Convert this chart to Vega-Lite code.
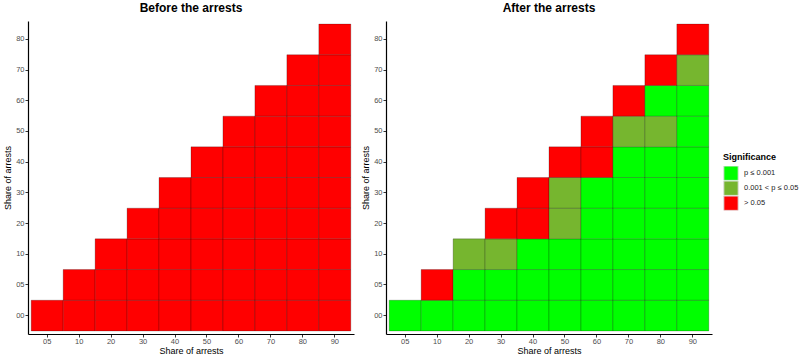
{
  "$schema": "https://vega.github.io/schema/vega-lite/v6.json",
  "padding": {"left": 3, "top": 2, "right": 0, "bottom": 0},
  "bounds": "flush",
  "spacing": 32,
  "config": {
    "font": "Liberation Sans",
    "view": {"stroke": null},
    "axis": {
      "grid": false,
      "domainColor": "#000000",
      "domainWidth": 1.2,
      "tickColor": "#333333",
      "tickSize": 3,
      "labelFontSize": 7.5,
      "labelColor": "#4D4D4D",
      "titleFontSize": 9,
      "titleFontWeight": "normal",
      "titleColor": "#000000"
    },
    "axisX": {"labelPadding": 0, "titlePadding": 2},
    "axisY": {"labelPadding": 1, "titlePadding": 3},
    "title": {"fontSize": 12, "fontWeight": "bold", "anchor": "middle", "offset": 6, "color": "#000000"},
    "legend": {
      "titleFontSize": 9,
      "titleFontWeight": "bold",
      "titleColor": "#000000",
      "labelFontSize": 7.5,
      "labelColor": "#222222",
      "symbolType": "square",
      "symbolSize": 206,
      "symbolStrokeColor": "#dddddd",
      "symbolStrokeWidth": 1,
      "rowPadding": 0,
      "clipHeight": 14.4,
      "labelOffset": 5,
      "titlePadding": 4
    }
  },
  "data": {"values": [
    {"p": "before", "x": "05", "y": "00", "s": "> 0.05"},
    {"p": "before", "x": "10", "y": "00", "s": "> 0.05"},
    {"p": "before", "x": "10", "y": "05", "s": "> 0.05"},
    {"p": "before", "x": "20", "y": "00", "s": "> 0.05"},
    {"p": "before", "x": "20", "y": "05", "s": "> 0.05"},
    {"p": "before", "x": "20", "y": "10", "s": "> 0.05"},
    {"p": "before", "x": "30", "y": "00", "s": "> 0.05"},
    {"p": "before", "x": "30", "y": "05", "s": "> 0.05"},
    {"p": "before", "x": "30", "y": "10", "s": "> 0.05"},
    {"p": "before", "x": "30", "y": "20", "s": "> 0.05"},
    {"p": "before", "x": "40", "y": "00", "s": "> 0.05"},
    {"p": "before", "x": "40", "y": "05", "s": "> 0.05"},
    {"p": "before", "x": "40", "y": "10", "s": "> 0.05"},
    {"p": "before", "x": "40", "y": "20", "s": "> 0.05"},
    {"p": "before", "x": "40", "y": "30", "s": "> 0.05"},
    {"p": "before", "x": "50", "y": "00", "s": "> 0.05"},
    {"p": "before", "x": "50", "y": "05", "s": "> 0.05"},
    {"p": "before", "x": "50", "y": "10", "s": "> 0.05"},
    {"p": "before", "x": "50", "y": "20", "s": "> 0.05"},
    {"p": "before", "x": "50", "y": "30", "s": "> 0.05"},
    {"p": "before", "x": "50", "y": "40", "s": "> 0.05"},
    {"p": "before", "x": "60", "y": "00", "s": "> 0.05"},
    {"p": "before", "x": "60", "y": "05", "s": "> 0.05"},
    {"p": "before", "x": "60", "y": "10", "s": "> 0.05"},
    {"p": "before", "x": "60", "y": "20", "s": "> 0.05"},
    {"p": "before", "x": "60", "y": "30", "s": "> 0.05"},
    {"p": "before", "x": "60", "y": "40", "s": "> 0.05"},
    {"p": "before", "x": "60", "y": "50", "s": "> 0.05"},
    {"p": "before", "x": "70", "y": "00", "s": "> 0.05"},
    {"p": "before", "x": "70", "y": "05", "s": "> 0.05"},
    {"p": "before", "x": "70", "y": "10", "s": "> 0.05"},
    {"p": "before", "x": "70", "y": "20", "s": "> 0.05"},
    {"p": "before", "x": "70", "y": "30", "s": "> 0.05"},
    {"p": "before", "x": "70", "y": "40", "s": "> 0.05"},
    {"p": "before", "x": "70", "y": "50", "s": "> 0.05"},
    {"p": "before", "x": "70", "y": "60", "s": "> 0.05"},
    {"p": "before", "x": "80", "y": "00", "s": "> 0.05"},
    {"p": "before", "x": "80", "y": "05", "s": "> 0.05"},
    {"p": "before", "x": "80", "y": "10", "s": "> 0.05"},
    {"p": "before", "x": "80", "y": "20", "s": "> 0.05"},
    {"p": "before", "x": "80", "y": "30", "s": "> 0.05"},
    {"p": "before", "x": "80", "y": "40", "s": "> 0.05"},
    {"p": "before", "x": "80", "y": "50", "s": "> 0.05"},
    {"p": "before", "x": "80", "y": "60", "s": "> 0.05"},
    {"p": "before", "x": "80", "y": "70", "s": "> 0.05"},
    {"p": "before", "x": "90", "y": "00", "s": "> 0.05"},
    {"p": "before", "x": "90", "y": "05", "s": "> 0.05"},
    {"p": "before", "x": "90", "y": "10", "s": "> 0.05"},
    {"p": "before", "x": "90", "y": "20", "s": "> 0.05"},
    {"p": "before", "x": "90", "y": "30", "s": "> 0.05"},
    {"p": "before", "x": "90", "y": "40", "s": "> 0.05"},
    {"p": "before", "x": "90", "y": "50", "s": "> 0.05"},
    {"p": "before", "x": "90", "y": "60", "s": "> 0.05"},
    {"p": "before", "x": "90", "y": "70", "s": "> 0.05"},
    {"p": "before", "x": "90", "y": "80", "s": "> 0.05"},

    {"p": "after", "x": "05", "y": "00", "s": "p ≤ 0.001"},
    {"p": "after", "x": "10", "y": "00", "s": "p ≤ 0.001"},
    {"p": "after", "x": "10", "y": "05", "s": "> 0.05"},
    {"p": "after", "x": "20", "y": "00", "s": "p ≤ 0.001"},
    {"p": "after", "x": "20", "y": "05", "s": "p ≤ 0.001"},
    {"p": "after", "x": "20", "y": "10", "s": "0.001 < p ≤ 0.05"},
    {"p": "after", "x": "30", "y": "00", "s": "p ≤ 0.001"},
    {"p": "after", "x": "30", "y": "05", "s": "p ≤ 0.001"},
    {"p": "after", "x": "30", "y": "10", "s": "0.001 < p ≤ 0.05"},
    {"p": "after", "x": "30", "y": "20", "s": "> 0.05"},
    {"p": "after", "x": "40", "y": "00", "s": "p ≤ 0.001"},
    {"p": "after", "x": "40", "y": "05", "s": "p ≤ 0.001"},
    {"p": "after", "x": "40", "y": "10", "s": "p ≤ 0.001"},
    {"p": "after", "x": "40", "y": "20", "s": "> 0.05"},
    {"p": "after", "x": "40", "y": "30", "s": "> 0.05"},
    {"p": "after", "x": "50", "y": "00", "s": "p ≤ 0.001"},
    {"p": "after", "x": "50", "y": "05", "s": "p ≤ 0.001"},
    {"p": "after", "x": "50", "y": "10", "s": "p ≤ 0.001"},
    {"p": "after", "x": "50", "y": "20", "s": "0.001 < p ≤ 0.05"},
    {"p": "after", "x": "50", "y": "30", "s": "0.001 < p ≤ 0.05"},
    {"p": "after", "x": "50", "y": "40", "s": "> 0.05"},
    {"p": "after", "x": "60", "y": "00", "s": "p ≤ 0.001"},
    {"p": "after", "x": "60", "y": "05", "s": "p ≤ 0.001"},
    {"p": "after", "x": "60", "y": "10", "s": "p ≤ 0.001"},
    {"p": "after", "x": "60", "y": "20", "s": "p ≤ 0.001"},
    {"p": "after", "x": "60", "y": "30", "s": "p ≤ 0.001"},
    {"p": "after", "x": "60", "y": "40", "s": "> 0.05"},
    {"p": "after", "x": "60", "y": "50", "s": "> 0.05"},
    {"p": "after", "x": "70", "y": "00", "s": "p ≤ 0.001"},
    {"p": "after", "x": "70", "y": "05", "s": "p ≤ 0.001"},
    {"p": "after", "x": "70", "y": "10", "s": "p ≤ 0.001"},
    {"p": "after", "x": "70", "y": "20", "s": "p ≤ 0.001"},
    {"p": "after", "x": "70", "y": "30", "s": "p ≤ 0.001"},
    {"p": "after", "x": "70", "y": "40", "s": "p ≤ 0.001"},
    {"p": "after", "x": "70", "y": "50", "s": "0.001 < p ≤ 0.05"},
    {"p": "after", "x": "70", "y": "60", "s": "> 0.05"},
    {"p": "after", "x": "80", "y": "00", "s": "p ≤ 0.001"},
    {"p": "after", "x": "80", "y": "05", "s": "p ≤ 0.001"},
    {"p": "after", "x": "80", "y": "10", "s": "p ≤ 0.001"},
    {"p": "after", "x": "80", "y": "20", "s": "p ≤ 0.001"},
    {"p": "after", "x": "80", "y": "30", "s": "p ≤ 0.001"},
    {"p": "after", "x": "80", "y": "40", "s": "p ≤ 0.001"},
    {"p": "after", "x": "80", "y": "50", "s": "0.001 < p ≤ 0.05"},
    {"p": "after", "x": "80", "y": "60", "s": "p ≤ 0.001"},
    {"p": "after", "x": "80", "y": "70", "s": "> 0.05"},
    {"p": "after", "x": "90", "y": "00", "s": "p ≤ 0.001"},
    {"p": "after", "x": "90", "y": "05", "s": "p ≤ 0.001"},
    {"p": "after", "x": "90", "y": "10", "s": "p ≤ 0.001"},
    {"p": "after", "x": "90", "y": "20", "s": "p ≤ 0.001"},
    {"p": "after", "x": "90", "y": "30", "s": "p ≤ 0.001"},
    {"p": "after", "x": "90", "y": "40", "s": "p ≤ 0.001"},
    {"p": "after", "x": "90", "y": "50", "s": "p ≤ 0.001"},
    {"p": "after", "x": "90", "y": "60", "s": "p ≤ 0.001"},
    {"p": "after", "x": "90", "y": "70", "s": "0.001 < p ≤ 0.05"},
    {"p": "after", "x": "90", "y": "80", "s": "> 0.05"}
  ]},
  "hconcat": [
    {
      "title": "Before the arrests",
      "width": 326,
      "height": 313,
      "transform": [{"filter": "datum.p == 'before'"}],
      "mark": {"type": "rect", "stroke": "#000000", "strokeWidth": 0.5, "strokeOpacity": 0.45},
      "encoding": {
        "x": {"field": "x", "type": "ordinal", "title": "Share of arrests",
              "scale": {"domain": ["05","10","20","30","40","50","60","70","80","90"], "paddingInner": 0, "paddingOuter": 0.1},
              "axis": {"labelAngle": 0}},
        "y": {"field": "y", "type": "ordinal", "title": "Share of arrests",
              "scale": {"domain": ["80","70","60","50","40","30","20","10","05","00"], "paddingInner": 0, "paddingOuter": 0.1}},
        "color": {"field": "s", "type": "nominal", "title": "Significance",
                  "scale": {"domain": ["p ≤ 0.001", "0.001 < p ≤ 0.05", "> 0.05"], "range": ["#00FF00", "#76B62F", "#FF0000"]},
                  "legend": {"orient": "none", "legendX": 695, "legendY": 132}}
      }
    },
    {
      "title": "After the arrests",
      "width": 326,
      "height": 313,
      "transform": [{"filter": "datum.p == 'after'"}],
      "mark": {"type": "rect", "stroke": "#000000", "strokeWidth": 0.5, "strokeOpacity": 0.45},
      "encoding": {
        "x": {"field": "x", "type": "ordinal", "title": "Share of arrests",
              "scale": {"domain": ["05","10","20","30","40","50","60","70","80","90"], "paddingInner": 0, "paddingOuter": 0.1},
              "axis": {"labelAngle": 0}},
        "y": {"field": "y", "type": "ordinal", "title": "Share of arrests",
              "scale": {"domain": ["80","70","60","50","40","30","20","10","05","00"], "paddingInner": 0, "paddingOuter": 0.1}},
        "color": {"field": "s", "type": "nominal", "title": "Significance",
                  "scale": {"domain": ["p ≤ 0.001", "0.001 < p ≤ 0.05", "> 0.05"], "range": ["#00FF00", "#76B62F", "#FF0000"]},
                  "legend": {"orient": "none", "legendX": 695, "legendY": 132}}
      }
    }
  ]
}
